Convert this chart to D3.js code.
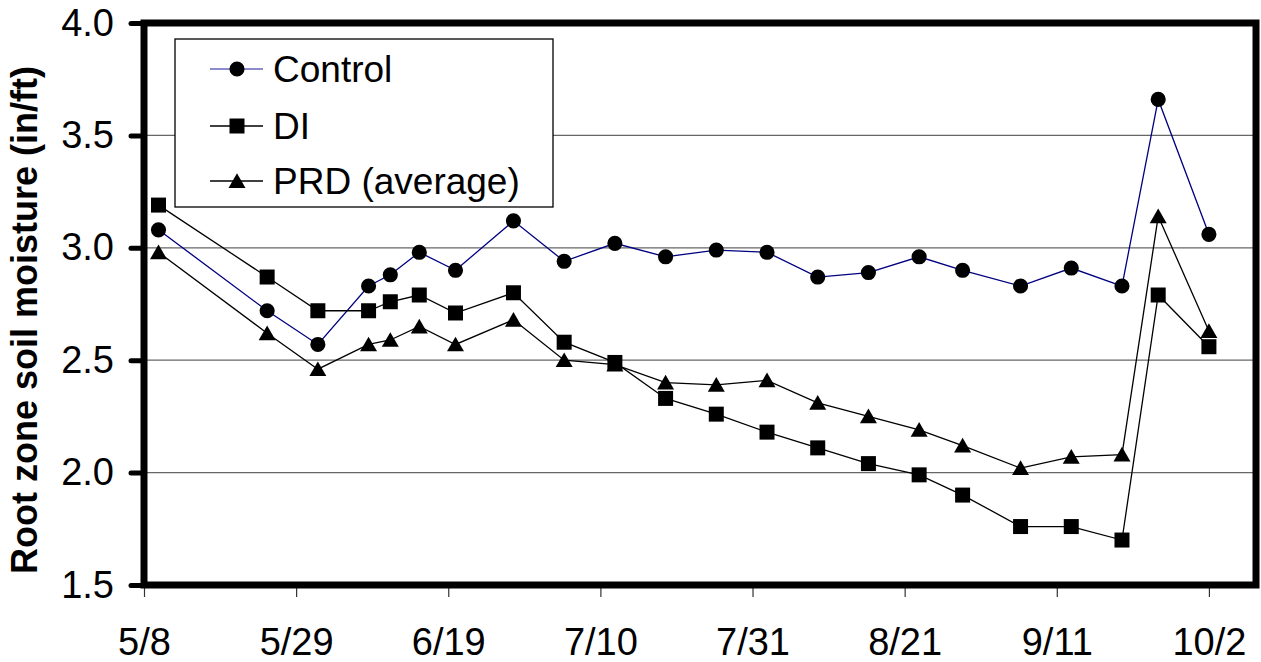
<!DOCTYPE html>
<meta charset="utf-8">
<script src="https://d3js.org/d3.v7.min.js"></script>
<style>
  body { margin: 0; background: #fff; }
  text { font-family: "Liberation Sans", Arial, sans-serif; fill: #000; }
</style>
<body>
<div id="my_dataviz"></div>
<script>
    // sampling dates (m/d) and the three treatments, in/ft
    var dates = ["5/10", "5/25", "6/1", "6/8", "6/11", "6/15", "6/20", "6/28", "7/5", "7/12", "7/19",
        "7/26", "8/2", "8/9", "8/16", "8/23", "8/29", "9/6", "9/13", "9/20", "9/25", "10/2"];
    var control = [3.08, 2.72, 2.57, 2.83, 2.88, 2.98, 2.90, 3.12, 2.94, 3.02, 2.96,
        2.99, 2.98, 2.87, 2.89, 2.96, 2.90, 2.83, 2.91, 2.83, 3.66, 3.06];
    var di = [3.19, 2.87, 2.72, 2.72, 2.76, 2.79, 2.71, 2.80, 2.58, 2.49, 2.33,
        2.26, 2.18, 2.11, 2.04, 1.99, 1.90, 1.76, 1.76, 1.70, 2.79, 2.56];
    var prd = [2.98, 2.62, 2.46, 2.57, 2.59, 2.65, 2.57, 2.68, 2.50, 2.48, 2.40,
        2.39, 2.41, 2.31, 2.25, 2.19, 2.12, 2.02, 2.07, 2.08, 3.14, 2.63];
    var xTicks = ["5/8", "5/29", "6/19", "7/10", "7/31", "8/21", "9/11", "10/2"];
    var yTicks = [1.5, 2.0, 2.5, 3.0, 3.5, 4.0];
    var seriesNames = ["Control", "DI", "PRD (average)"];

    var parse = d3.timeParse("%m/%d/%Y");
    function day(s) { return parse(s + "/2003"); }

    var W = 1261, H = 662;
    var plot = { left: 144, right: 1256, top: 23, bottom: 585 };

    var svg = d3.select("#my_dataviz")
        .append("svg")
        .attr("width", W)
        .attr("height", H);

    var x = d3.scaleTime()
        .domain([day("5/8"), d3.timeHour.offset(day("10/8"), 12)])
        .range([plot.left, plot.right]);
    var y = d3.scaleLinear()
        .domain([1.5, 4.0])
        .range([plot.bottom, plot.top]);

    // gridlines
    svg.append("g")
        .selectAll("line")
        .data(yTicks.filter(function(v) { return v > 1.5 && v < 4.0; }))
        .enter().append("line")
        .attr("x1", plot.left).attr("x2", plot.right)
        .attr("y1", function(d) { return y(d); })
        .attr("y2", function(d) { return y(d); })
        .attr("stroke", "#666")
        .attr("stroke-width", 1.3);

    // x axis: thin ticks under the frame, labels below
    var xAxis = svg.append("g")
        .attr("transform", "translate(0," + plot.bottom + ")")
        .call(d3.axisBottom(x)
            .tickValues(xTicks.map(day))
            .tickFormat(function(d) { return (d.getMonth() + 1) + "/" + d.getDate(); })
            .tickSize(12)
            .tickPadding(31));
    xAxis.select(".domain").remove();
    xAxis.selectAll(".tick line").attr("stroke", "#333").attr("stroke-width", 1.2);
    xAxis.selectAll(".tick text")
        .attr("font-size", 38)
        .attr("font-family", "Liberation Sans, Arial, sans-serif")
        .attr("fill", "#000");

    // y axis: thick short ticks
    var yAxis = svg.append("g")
        .attr("transform", "translate(" + plot.left + ",0)")
        .call(d3.axisLeft(y)
            .tickValues(yTicks)
            .tickFormat(d3.format(".1f"))
            .tickSize(13)
            .tickPadding(17));
    yAxis.select(".domain").remove();
    yAxis.selectAll(".tick line")
        .attr("stroke", "#000")
        .attr("stroke-width", 5)
        .attr("stroke-linecap", "round");
    yAxis.selectAll(".tick text")
        .attr("font-size", 38)
        .attr("font-family", "Liberation Sans, Arial, sans-serif")
        .attr("fill", "#000");

    // frame
    svg.append("rect")
        .attr("x", plot.left).attr("y", plot.top)
        .attr("width", plot.right - plot.left).attr("height", plot.bottom - plot.top)
        .attr("fill", "none")
        .attr("stroke", "#000")
        .attr("stroke-width", 7);

    // y title
    svg.append("text")
        .attr("transform", "translate(37," + ((plot.top + plot.bottom) / 2 + 16) + ") rotate(-90)")
        .attr("text-anchor", "middle")
        .attr("font-size", 36)
        .attr("font-weight", "bold")
        .text("Root zone soil moisture (in/ft)");

    var symbols = [d3.symbolCircle, d3.symbolSquare, d3.symbolTriangle];
    var sizes = [180, 225, 125];
    var lineColors = ["#000080", "#000", "#000"];
    var values = [control, di, prd];

    var line = d3.line()
        .x(function(d) { return x(day(d.date)); })
        .y(function(d) { return y(d.v); });

    values.forEach(function(vals, i) {
        var data = dates.map(function(d, j) { return { date: d, v: vals[j] }; });
        svg.append("path")
            .datum(data)
            .attr("fill", "none")
            .attr("stroke", lineColors[i])
            .attr("stroke-width", 1.3)
            .attr("d", line);
        svg.append("g")
            .selectAll("path")
            .data(data)
            .enter().append("path")
            .attr("transform", function(d) {
                var dy = i == 2 ? 2 : 0;
                return "translate(" + x(day(d.date)) + "," + (y(d.v) + dy) + ")";
            })
            .attr("d", d3.symbol().type(symbols[i]).size(sizes[i]))
            .attr("fill", "#000");
    });

    // legend
    var legend = svg.append("g");
    legend.append("rect")
        .attr("x", 175).attr("y", 39)
        .attr("width", 378).attr("height", 168)
        .attr("fill", "#fff")
        .attr("stroke", "#000")
        .attr("stroke-width", 1.3);
    var rowY = [69, 126, 181];
    seriesNames.forEach(function(name, i) {
        legend.append("line")
            .attr("x1", 210).attr("x2", 263)
            .attr("y1", rowY[i]).attr("y2", rowY[i])
            .attr("stroke", i == 0 ? "#6666bb" : "#000")
            .attr("stroke-width", 1.3);
        legend.append("path")
            .attr("transform", "translate(237," + (rowY[i] + (i == 2 ? 2 : 0)) + ")")
            .attr("d", d3.symbol().type(symbols[i]).size(sizes[i]))
            .attr("fill", "#000");
        legend.append("text")
            .attr("x", 273)
            .attr("y", rowY[i] + 13)
            .attr("font-size", 37)
            .text(name);
    });
</script>
</body>
